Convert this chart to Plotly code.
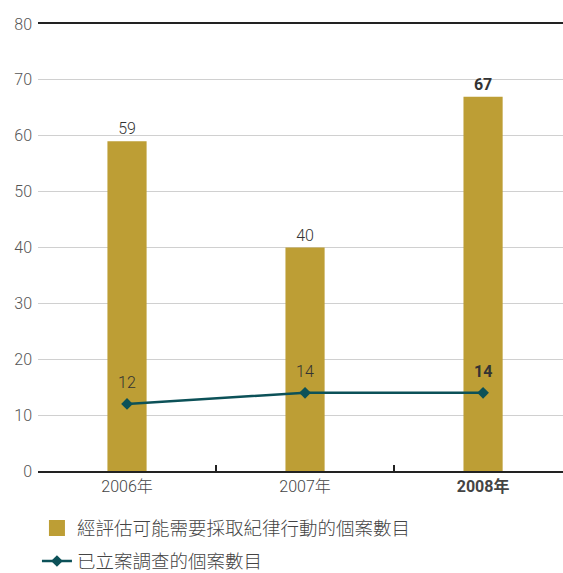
import plotly.graph_objects as go

years = ["2006年", "2007年", "2008年"]
year_labels = ["2006年", "2007年", "<b>2008年</b>"]
disciplinary = [59, 40, 67]
investigated = [12, 14, 14]
bar_name = "經評估可能需要採取紀律行動的個案數目"
line_name = "已立案調查的個案數目"

xpos = list(range(len(years)))
bar_text = [str(v) if i < len(years) - 1 else f"<b>{v}</b>" for i, v in enumerate(disciplinary)]
line_text = [str(v) if i < len(years) - 1 else f"<b>{v}</b>" for i, v in enumerate(investigated)]

FONT = "Roboto, 'Noto Sans CJK TC', sans-serif"
BAR_C = "#bd9e35"
LINE_C = "#0c5158"

fig = go.Figure()
fig.add_trace(go.Bar(
    x=xpos, y=disciplinary, name=bar_name, width=0.22,
    marker=dict(color=BAR_C, line=dict(width=0)),
    text=bar_text, textposition="outside", cliponaxis=False,
    textfont=dict(size=16, color="#333", family=FONT, weight=300),
    showlegend=False,
))
# legend entry for the bars (bigger square swatch)
fig.add_trace(go.Scatter(
    x=[None], y=[None], name=bar_name, mode="markers",
    marker=dict(symbol="square", size=16, color=BAR_C),
    legendgroup="a",
))
fig.add_trace(go.Scatter(
    x=xpos, y=investigated, name=line_name, mode="lines+markers",
    line=dict(color=LINE_C, width=2.5),
    marker=dict(symbol="diamond", size=9, color=LINE_C),
    legendgroup="b",
))
for xv, yv, t in zip(xpos, investigated, line_text):
    fig.add_annotation(x=xv, y=yv, text=t, showarrow=False, yshift=21,
                       font=dict(size=16, color="#333", family=FONT, weight=300))

fig.add_trace(go.Scatter(x=[0.5, 1.5], y=[0, 0], xaxis="x2", mode="markers",
                         marker=dict(opacity=0), showlegend=False, hoverinfo="skip"))

XR = [-0.5, 2.449]
fig.update_layout(
    width=563, height=573,
    margin=dict(l=38, r=0, t=24, b=102, autoexpand=False),
    paper_bgcolor="white", plot_bgcolor="white",
    font=dict(family=FONT, size=15, color="#444"),
    bargap=0.5,
    xaxis=dict(range=XR, tickvals=xpos, ticktext=year_labels,
               showgrid=False, zeroline=False, showline=True, mirror=True,
               linecolor="#222", linewidth=2, ticks="", automargin=False,
               tickfont=dict(size=16, color="#444", family=FONT, weight=300)),
    xaxis2=dict(range=XR, overlaying="x", tickvals=[0.5, 1.5],
                showticklabels=False, ticks="inside", ticklen=6, tickwidth=2,
                tickcolor="#222", showgrid=False, zeroline=False, side="bottom",
                automargin=False),
    yaxis=dict(range=[0, 80], dtick=10, showgrid=True, gridcolor="#d0d0d0",
               gridwidth=1, zeroline=False, ticks="", automargin=False,
               ticklabelstandoff=5,
               tickfont=dict(size=16, color="#555", family=FONT, weight=300)),
    legend=dict(x=-0.002, y=-0.086, xanchor="left", yanchor="top",
                font=dict(size=18.5, color="#444", family=FONT, weight=300),
                tracegroupgap=6),
    showlegend=True,
)
fig.write_html("out.html", config={"displayModeBar": False},
               post_script="document.body.style.margin='0';document.body.style.overflow='hidden';")
